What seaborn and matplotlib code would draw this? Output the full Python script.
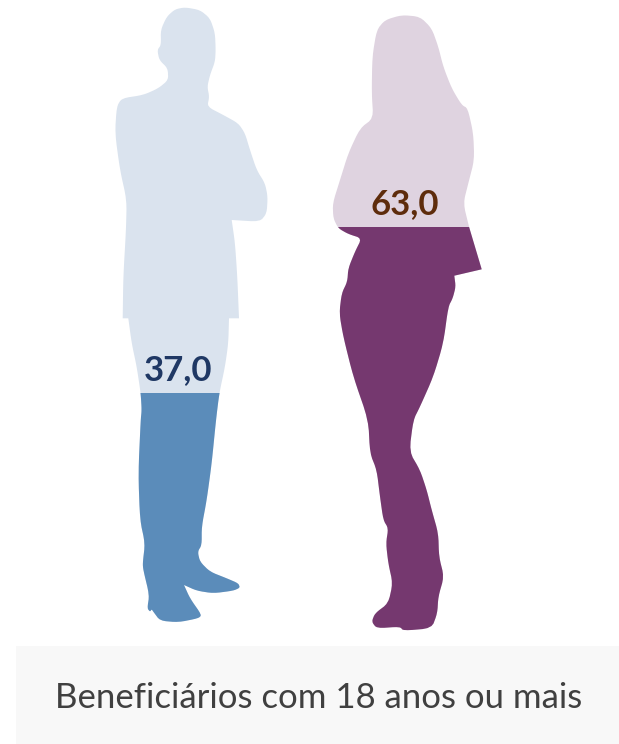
import matplotlib
matplotlib.use("Agg")
import matplotlib.pyplot as plt
import seaborn as sns
from matplotlib.patches import Polygon, Rectangle
from matplotlib.transforms import Affine2D

# Datos
categorias = ["Homens", "Mulheres"]
valores = [37.0, 63.0]
titulo = "Beneficiários com 18 anos ou mais"

# Colores
azul = ["#DAE3EE", "#5B8CBA", "#1F3864"]
morado = ["#DFD3E0", "#75386F", "#5E2C0C"]

# Siluetas (contorno en pixeles de la imagen, punto repetido = esquina viva)
contorno_homem = [
    (185, 7.3), (200, 10), (210, 18.3), (215, 33), (215.7, 50), (215, 61.7), (210, 75),
    (207.3, 86.7), (209.3, 96.7), (207.3, 106.7), (223.3, 115), (238.3, 123.3), (245, 133.3),
    (250, 150), (256.7, 170), (265, 183.3), (267.7, 196.7), (266.7, 213.3), (260, 221.7),
    (231.7, 220), (231.7, 220), (235, 243), (237.3, 276.7), (239, 318.3), (239, 318.3),
    (229, 318.3), (229, 318.3), (228.3, 343.3),
    (225, 366.7), (219.3, 393.3), (216, 420), (211.7, 463.3), (206.7, 500), (201.7, 526.7),
    (201.7, 545), (197.7, 551.7), (200, 561.7), (210, 571.7), (226.7, 578.3), (238.3, 583.3),
    (240, 587.7), (233.3, 590.7), (213.3, 593.3), (196.7, 590.7), (184, 585), (184, 585),
    (190, 598.3), (201.7, 615), (198.3, 618.3), (178.3, 622.3), (160, 620.7), (153.3, 611.7),
    (151.7, 609.3), (150, 611.7), (147.3, 608.3), (149.3, 595), (143.3, 570), (142.7, 563.3),
    (145, 543.3), (140, 520), (138.3, 473.3), (140.7, 420), (141.7, 410), (140.7, 393.3),
    (136.7, 366.7), (131.7, 343.3), (128.3, 318.3), (128.3, 318.3), (122.7, 318.3),
    (122.7, 318.3), (123.3, 276.7), (126, 230), (126.7, 200),
    (120, 170), (115, 133.3), (116.7, 106.7), (121.7, 98.3), (143.3, 95), (158.3, 88.3),
    (168.3, 80), (167.7, 68.3), (159.3, 60), (157.3, 50), (161, 45), (160.7, 30), (166.7, 16.7),
    (175, 9.3),
]
contorno_mulher = [
    (401.7, 15), (420, 16.7), (431.7, 28.3), (438.3, 46.7), (443.3, 66.7), (451.7, 88.3),
    (461.7, 105), (467.7, 108.3), (473.3, 133.3), (474.3, 160), (468.3, 183.3), (463.3, 203.3),
    (469, 226.7), (469, 226.7), (481.7, 269.3), (481.7, 269.3), (454.3, 275.7), (454.3, 275.7),
    (455.7, 286.7), (452.7, 298.3), (448.3, 306.7),
    (443.3, 343.3), (433.3, 376.7), (420, 406.7), (413.3, 420), (409.3, 451.7), (420, 470),
    (426.7, 490), (431.7, 510), (438.3, 533.3), (439, 556.7), (444, 576.7), (438.3, 596.7),
    (437.3, 613.3), (431.7, 628.3), (403.3, 630.7), (400, 626.7), (376.7, 628.3), (371.7, 621.7),
    (375, 613.3), (388.3, 603.3), (392.7, 583.3), (388.3, 563.3), (386, 543.3), (388.3, 528.3),
    (383.3, 520), (380, 496.7), (376.7, 470), (370, 453.3), (368.3, 420), (353.3, 376.7),
    (343.3, 336.7), (339.3, 313.3), (341.7, 293.3), (347.3, 281.7), (348.3, 268.3), (355, 251.7),
    (361.7, 238.3), (348.3, 234), (338.3, 228.3), (333.3, 218.3), (332.7, 203.3), (340, 180),
    (348.3, 153.3), (360, 128.3), (373.3, 118.3), (371.7, 93.3), (372.3, 56.7), (376.7, 30),
    (385, 20),
]

ANCHO, ALTO = 619, 744

sns.set_theme(style="white")
plt.rcParams["font.family"] = ["Lato", "DejaVu Sans"]

fig = plt.figure(figsize=(ANCHO / 100, ALTO / 100), dpi=100, facecolor="white")
trans_px = Affine2D().scale(1 / ANCHO, -1 / ALTO).translate(0, 1) + fig.transFigure


def suavizar(puntos, pasadas=2):
    # Recorte de esquinas para que el contorno no se vea poligonal
    for _ in range(pasadas):
        nuevos = []
        for i, (xa, ya) in enumerate(puntos):
            xb, yb = puntos[(i + 1) % len(puntos)]
            nuevos.append((0.8 * xa + 0.2 * xb, 0.8 * ya + 0.2 * yb))
            nuevos.append((0.2 * xa + 0.8 * xb, 0.2 * ya + 0.8 * yb))
        puntos = nuevos
    return puntos


def dibujar_figura(categoria, valor, contorno, colores, x0, x1, base, px_por_unidad):
    # Un eje por silueta: 0 en los pies y el valor en el corte del color
    alto_eje = 100 * px_por_unidad
    ax = fig.add_axes([x0 / ANCHO, (ALTO - base) / ALTO, (x1 - x0) / ANCHO, alto_eje / ALTO])
    ax.patch.set_alpha(0)

    silueta = Polygon(suavizar(contorno), closed=True, transform=trans_px, facecolor=colores[0],
                      edgecolor="none", clip_on=False, zorder=1)
    ax.add_patch(silueta)

    sns.barplot(x=[categoria], y=[valor], color=colores[1], saturation=1, width=1, ax=ax,
                linewidth=0, zorder=2)
    for barra in ax.patches:
        if barra is not silueta:
            barra.set_clip_path(silueta)

    ax.set_xlim(-0.5, 0.5)
    ax.set_ylim(0, 100)
    ax.axis("off")
    ax.text(0, valor + 12.5 / px_por_unidad, f"{valor:.1f}".replace(".", ","), ha="center",
            va="baseline", fontsize=25, fontweight="bold", color=colores[2], zorder=3)


dibujar_figura(categorias[0], valores[0], contorno_homem, azul, 113, 243, 624, 6.243)
dibujar_figura(categorias[1], valores[1], contorno_mulher, morado, 327, 483, 632, 6.43)

# Banda inferior con el título
fig.add_artist(Rectangle((16, 646), ANCHO - 16, ALTO - 646, transform=trans_px, facecolor="#F8F8F8",
                         edgecolor="none"))
fig.text(319 / ANCHO, 1 - 708 / ALTO, titulo, ha="center", va="baseline", fontsize=25, color="#404040")

fig.savefig("out.png", dpi=100)
